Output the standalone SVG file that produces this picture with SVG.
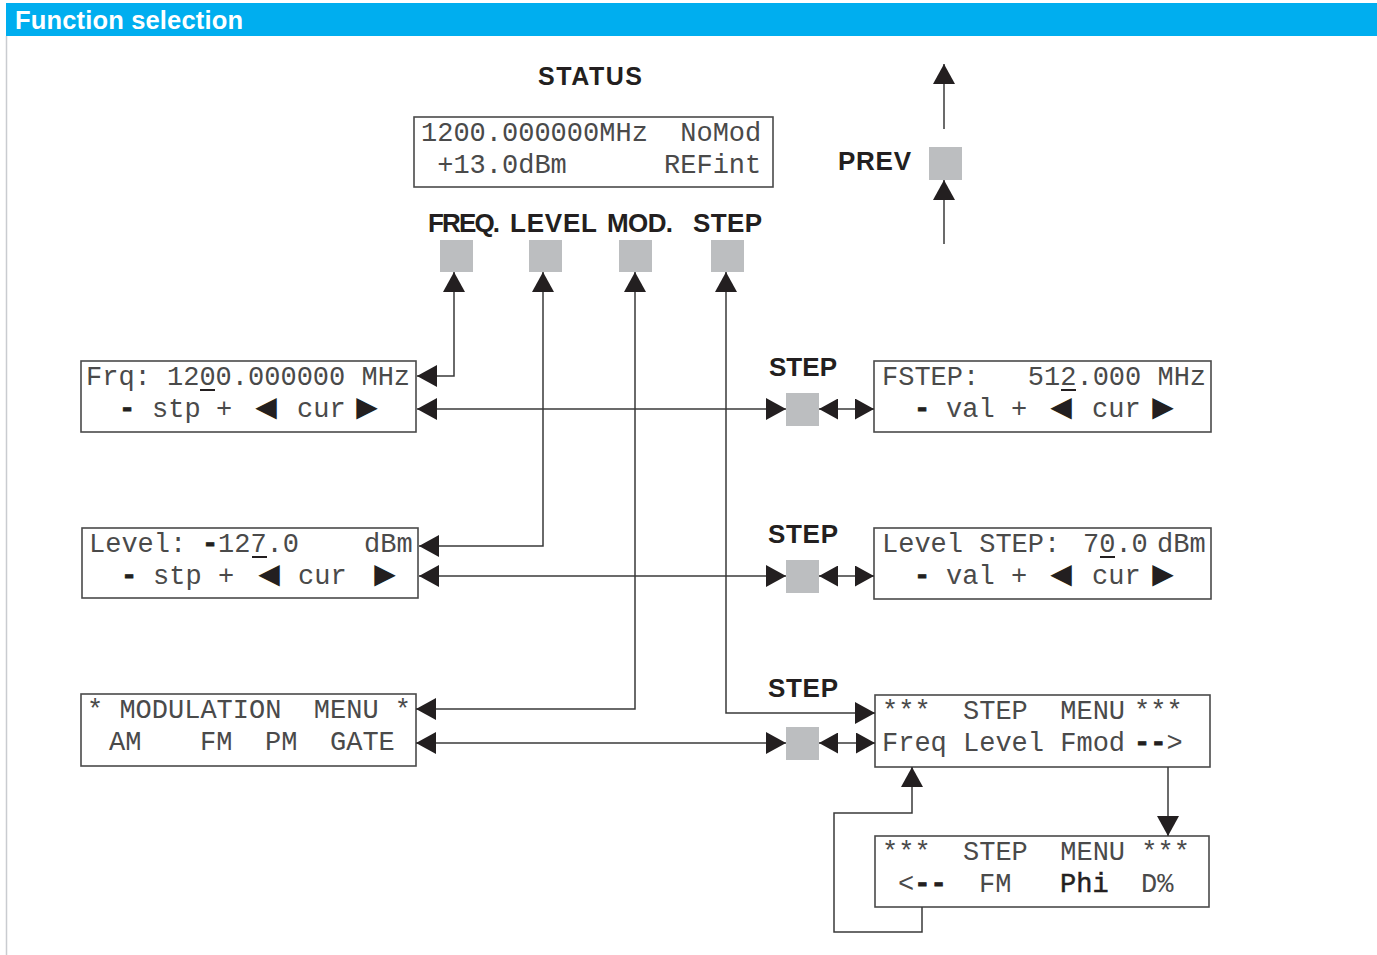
<svg xmlns="http://www.w3.org/2000/svg" width="1377" height="955" viewBox="0 0 1377 955">
<defs>
<style>
.t{font-family:"Liberation Sans",Arial,sans-serif;font-weight:bold;fill:#231F20}
.m{font-family:"Liberation Mono","Courier New",monospace;font-size:27px;fill:#4a4a4a}
.b{font-weight:bold;fill:#231F20;stroke:#231F20;stroke-width:0.8}
.p{fill:#231F20;stroke:#231F20;stroke-width:0.5}
.sym{font-family:"DejaVu Sans",sans-serif;font-size:28px;fill:#231F20}
.box{fill:#fff;stroke:#4a4a4a;stroke-width:1.6}
.key{fill:#BCBEC0}
.ln{fill:none;stroke:#3a3a3a;stroke-width:1.5}
.ul{stroke:#231F20;stroke-width:2}
</style>
<marker id="ah" markerUnits="userSpaceOnUse" markerWidth="20" markerHeight="22" viewBox="0 0 20 22" refX="20" refY="11" orient="auto-start-reverse"><path d="M0,0L20,11L0,22z" fill="#231F20"/></marker>
<marker id="as" markerUnits="userSpaceOnUse" markerWidth="19" markerHeight="21" viewBox="0 0 19 21" refX="19" refY="10.5" orient="auto-start-reverse"><path d="M0,0L19,10.5L0,21z" fill="#231F20"/></marker>
</defs>
<rect width="1377" height="955" fill="#fff"/>
<g id="header">
<rect x="6" y="3" width="1371" height="33" fill="#00AEEF"/>
<text x="15" y="29" font-family="Liberation Sans,Arial,sans-serif" font-weight="bold" font-size="25.5" fill="#fff" textLength="228">Function selection</text>
<line x1="6.5" y1="36" x2="6.5" y2="955" stroke="#c9ccd0" stroke-width="1.5"/>
</g>
<g id="status">
<text class="t" x="538" y="85" font-size="25" textLength="104">STATUS</text>
<rect class="box" x="414" y="117" width="359" height="70"/>
<text class="m" x="421" y="141" xml:space="preserve">1200.000000MHz  NoMod</text>
<text class="m" x="421" y="173" xml:space="preserve"> +13.0dBm      REFint</text>
</g>
<g id="key-freq"><text class="t" x="428" y="232" font-size="26" textLength="72">FREQ.</text><rect class="key" x="440" y="240" width="33" height="32"/></g>
<g id="key-level"><text class="t" x="510" y="232" font-size="26" textLength="87">LEVEL</text><rect class="key" x="529" y="240" width="33" height="32"/></g>
<g id="key-mod"><text class="t" x="607" y="232" font-size="26" textLength="66">MOD.</text><rect class="key" x="619" y="240" width="33" height="32"/></g>
<g id="key-step"><text class="t" x="693" y="232" font-size="26" textLength="69">STEP</text><rect class="key" x="711" y="240" width="33" height="32"/></g>
<g id="key-prev"><text class="t" x="838" y="170" font-size="26" textLength="73">PREV</text><rect class="key" x="929" y="147" width="33" height="33"/></g>
<g id="frq">
<rect class="box" x="81" y="361" width="335" height="71"/>
<text class="m" x="86" y="385" xml:space="preserve">Frq: 1200.000000 MHz</text>
<line class="ul" x1="200" y1="390" x2="215" y2="390"/>
<text class="m" y="417"><tspan class="b" x="119">-</tspan><tspan x="152">stp</tspan><tspan x="216">+</tspan><tspan x="297">cur</tspan></text>
<text class="sym" y="416" text-anchor="middle"><tspan x="266">◀</tspan><tspan x="367">▶</tspan></text>
</g>
<g id="level">
<rect class="box" x="82" y="528" width="336" height="70"/>
<text class="m" y="552" xml:space="preserve"><tspan x="89">Level:</tspan><tspan class="b" x="202">-</tspan><tspan x="218">127.0</tspan><tspan x="364">dBm</tspan></text>
<line class="ul" x1="252" y1="557" x2="267" y2="557"/>
<text class="m" y="584"><tspan class="b" x="121">-</tspan><tspan x="153">stp</tspan><tspan x="218">+</tspan><tspan x="298">cur</tspan></text>
<text class="sym" y="583" text-anchor="middle"><tspan x="269">◀</tspan><tspan x="385">▶</tspan></text>
</g>
<g id="mod">
<rect class="box" x="81" y="694" width="335" height="72"/>
<text class="m" x="87" y="718" xml:space="preserve">* MODULATION  MENU *</text>
<text class="m" y="750"><tspan x="109">AM</tspan><tspan x="200">FM</tspan><tspan x="265">PM</tspan><tspan x="330">GATE</tspan></text>
</g>
<g id="step1"><text class="t" x="769" y="376" font-size="26" textLength="68">STEP</text><rect class="key" x="786" y="393" width="33" height="33"/></g>
<g id="step2"><text class="t" x="768" y="543" font-size="26" textLength="70">STEP</text><rect class="key" x="786" y="560" width="33" height="33"/></g>
<g id="step3"><text class="t" x="768" y="697" font-size="26" textLength="70">STEP</text><rect class="key" x="786" y="727" width="33" height="33"/></g>
<g id="fstep">
<rect class="box" x="874" y="361" width="337" height="71"/>
<text class="m" x="882" y="385" xml:space="preserve">FSTEP:   512.000 MHz</text>
<line class="ul" x1="1061" y1="390" x2="1076" y2="390"/>
<text class="m" y="417"><tspan class="b" x="914">-</tspan><tspan x="946">val</tspan><tspan x="1011">+</tspan><tspan x="1092">cur</tspan></text>
<text class="sym" y="416" text-anchor="middle"><tspan x="1061">◀</tspan><tspan x="1163">▶</tspan></text>
</g>
<g id="levelstep">
<rect class="box" x="874" y="528" width="337" height="71"/>
<text class="m" y="552" xml:space="preserve"><tspan x="882">Level STEP:</tspan><tspan x="1083">70.0</tspan><tspan x="1157">dBm</tspan></text>
<line class="ul" x1="1100" y1="557" x2="1115" y2="557"/>
<text class="m" y="584"><tspan class="b" x="914">-</tspan><tspan x="946">val</tspan><tspan x="1011">+</tspan><tspan x="1092">cur</tspan></text>
<text class="sym" y="583" text-anchor="middle"><tspan x="1061">◀</tspan><tspan x="1163">▶</tspan></text>
</g>
<g id="stepmenu1">
<rect class="box" x="875" y="695" width="335" height="72"/>
<text class="m" y="719" xml:space="preserve"><tspan x="882">***  STEP  MENU</tspan><tspan x="1134">***</tspan></text>
<text class="m" y="751" xml:space="preserve"><tspan x="882">Freq Level Fmod</tspan><tspan class="b" x="1134">--</tspan><tspan>&gt;</tspan></text>
</g>
<g id="stepmenu2">
<rect class="box" x="875" y="836" width="334" height="71"/>
<text class="m" x="882" y="860" xml:space="preserve">***  STEP  MENU ***</text>
<text class="m" y="892" xml:space="preserve"><tspan x="898">&lt;</tspan><tspan class="b">--</tspan><tspan x="979">FM</tspan><tspan class="p" x="1060">Phi</tspan><tspan x="1141">D%</tspan></text>
</g>
<g id="connectors" class="ln">
<path d="M417,376H454V272" marker-start="url(#ah)" marker-end="url(#ah)"/>
<path d="M419,546H543V272" marker-start="url(#ah)" marker-end="url(#ah)"/>
<path d="M416,709H635V272" marker-start="url(#ah)" marker-end="url(#ah)"/>
<path d="M875,713H726V272" marker-start="url(#ah)" marker-end="url(#ah)"/>
<path d="M417,409H786" marker-start="url(#ah)" marker-end="url(#ah)"/>
<path d="M419,576H786" marker-start="url(#ah)" marker-end="url(#ah)"/>
<path d="M416,743H786" marker-start="url(#ah)" marker-end="url(#ah)"/>
<path d="M819,409H874" marker-start="url(#as)" marker-end="url(#as)"/>
<path d="M819,576H874" marker-start="url(#as)" marker-end="url(#as)"/>
<path d="M819,743H875" marker-start="url(#as)" marker-end="url(#as)"/>
<path d="M944,129V64" marker-end="url(#ah)"/>
<path d="M944,244V180" marker-end="url(#ah)"/>
<path d="M1168,767V836" marker-end="url(#ah)"/>
<path d="M922,907V932H834V813H912V767" marker-end="url(#ah)"/>
</g>
</svg>
